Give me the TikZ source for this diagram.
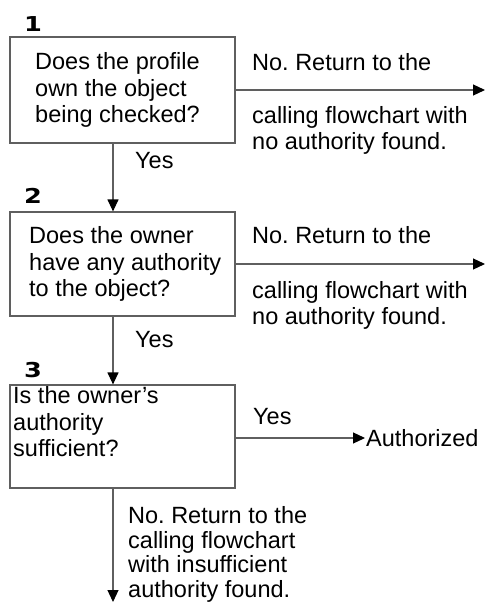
\documentclass[tikz,border=0pt]{standalone}
\usepackage{fontspec}
\setmainfont{Liberation Sans}
\newfontfamily\numfont{DejaVu Sans}
\usetikzlibrary{arrows.meta}
\definecolor{linegray}{RGB}{95,95,95}
\tikzset{
  box/.style={draw=linegray, line width=1.2pt, minimum width=225pt, minimum height=#1, inner sep=0pt},
  txt/.style={inner sep=0pt, align=left, font=\fontsize{23.5}{26.5}\selectfont\frenchspacing},
  num/.style={inner sep=0pt, anchor=base west, font=\numfont\bfseries\fontsize{20.5}{20.5}\selectfont},
  arr/.style={draw=linegray, line width=1.2pt, -{Triangle[length=12pt,width=11pt,fill=black,color=black]}},
}
\begin{document}
\begin{tikzpicture}[x=1pt,y=-1pt]
\useasboundingbox (0,0) rectangle (486,604);
% boxes
\node[box=106pt] (b1) at (122.5,90) {};
\node[box=104pt] (b2) at (122.5,264) {};
\node[box=103pt] (b3) at (122.5,436.5) {};
\coordinate (v) at (113,0);
% numbers
\node[num] (n1) at (24,32) {\scalebox{1.25}[1]{1}};
\node[num] (n2) at (24,203) {\scalebox{1.25}[1]{2}};
\node[num] (n3) at (24,377) {\scalebox{1.25}[1]{3}};
% box texts
\node[txt, anchor=west] (t1) at (35,90) {Does the profile\\own the object\\being checked?};
\node[txt, anchor=west] (t2) at (29,264) {Does the owner\\have any authority\\to the object?};
\node[txt, anchor=west] (t3) at (13,422) {Is the owner’s\\authority\\sufficient?};
% right branch labels
\node[txt, anchor=base west] (r1a) at (252,71) {No. Return to the};
\node[txt, anchor=north west] (r1b) at (252,106) {calling flowchart with\\no authority found.};
\node[txt, anchor=base west] (r2a) at (252,243) {No. Return to the};
\node[txt, anchor=north west] (r2b) at (252,281) {calling flowchart with\\no authority found.};
\node[txt, anchor=base west] (y1) at (135,168) {Yes};
\node[txt, anchor=base west] (y2) at (135,347) {Yes};
\node[txt, anchor=base west] (y3) at (253,424) {Yes};
\node[txt, anchor=west, inner sep=1pt] (auth) at (365,438) {Authorized};
\node[txt, anchor=north west, font=\fontsize{23.5}{24.5}\selectfont\frenchspacing] (bot) at (128,506.5) {No. Return to the\\calling flowchart\\with insufficient\\authority found.};
% ends
\coordinate (e1) at (485,90);
\coordinate (e2) at (485,264);
\coordinate (e3) at (113,602);
% connectors
\draw[arr] (b1.east |- e1) -- (e1);
\draw[arr] (b2.east |- e2) -- (e2);
\draw[arr] (b3.east |- auth.west) -- (auth.west);
\draw[arr] (b1.south -| v) -- (b2.north -| v);
\draw[arr] (b2.south -| v) -- (b3.north -| v);
\draw[arr] (b3.south -| v) -- (e3);
\end{tikzpicture}
\end{document}
